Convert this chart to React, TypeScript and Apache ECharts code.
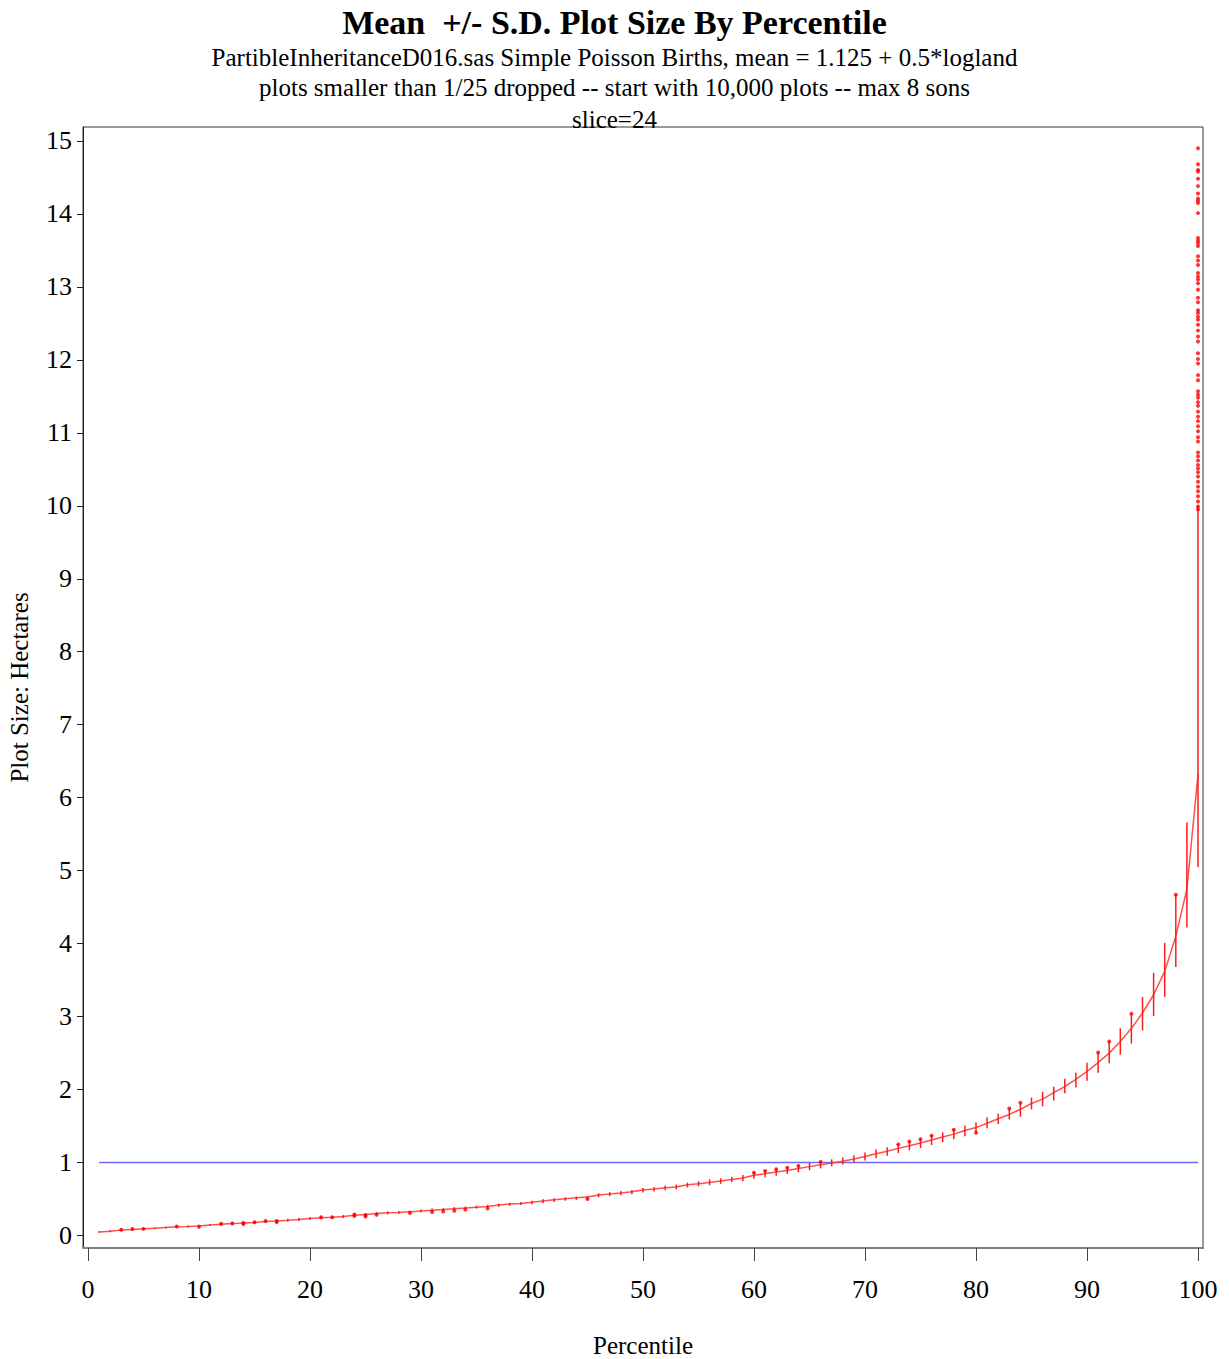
import React, { useEffect, useRef } from "react";
import * as echarts from "echarts";

const percentiles = [
  1, 2, 3, 4, 5, 6, 7, 8, 9, 10, 11, 12, 13, 14, 15, 16, 17, 18, 19, 20,
  21, 22, 23, 24, 25, 26, 27, 28, 29, 30, 31, 32, 33, 34, 35, 36, 37, 38, 39, 40,
  41, 42, 43, 44, 45, 46, 47, 48, 49, 50, 51, 52, 53, 54, 55, 56, 57, 58, 59, 60,
  61, 62, 63, 64, 65, 66, 67, 68, 69, 70, 71, 72, 73, 74, 75, 76, 77, 78, 79, 80,
  81, 82, 83, 84, 85, 86, 87, 88, 89, 90, 91, 92, 93, 94, 95, 96, 97, 98, 99, 100,
];

const meanSize = [
  0.05, 0.06, 0.075, 0.085, 0.093, 0.1, 0.11, 0.12, 0.125, 0.133,
  0.145, 0.157, 0.164, 0.172, 0.18, 0.193, 0.2, 0.21, 0.222, 0.235,
  0.245, 0.25, 0.26, 0.278, 0.288, 0.302, 0.312, 0.318, 0.325, 0.336,
  0.347, 0.356, 0.368, 0.378, 0.39, 0.4, 0.418, 0.432, 0.44, 0.456,
  0.474, 0.49, 0.505, 0.518, 0.53, 0.556, 0.57, 0.584, 0.6, 0.624,
  0.64, 0.657, 0.667, 0.698, 0.71, 0.728, 0.748, 0.77, 0.79, 0.826,
  0.847, 0.87, 0.892, 0.92, 0.945, 0.97, 0.995, 1.02, 1.05, 1.085,
  1.12, 1.155, 1.195, 1.23, 1.27, 1.31, 1.35, 1.39, 1.44, 1.48,
  1.54, 1.6, 1.66, 1.73, 1.81, 1.87, 1.96, 2.04, 2.14, 2.25,
  2.37, 2.5, 2.66, 2.84, 3.05, 3.3, 3.62, 4.1, 4.75, 6.32,
];

const barLow = [
  0.04, 0.045, 0.062, 0.07, 0.08, 0.088, 0.097, 0.105, 0.112, 0.115,
  0.13, 0.14, 0.145, 0.15, 0.16, 0.175, 0.178, 0.19, 0.2, 0.215,
  0.225, 0.23, 0.24, 0.255, 0.262, 0.278, 0.29, 0.298, 0.305, 0.315,
  0.324, 0.333, 0.342, 0.355, 0.37, 0.378, 0.395, 0.41, 0.418, 0.43,
  0.445, 0.46, 0.478, 0.49, 0.49, 0.525, 0.54, 0.553, 0.568, 0.59,
  0.605, 0.62, 0.635, 0.66, 0.675, 0.69, 0.71, 0.73, 0.745, 0.78,
  0.8, 0.82, 0.845, 0.87, 0.895, 0.92, 0.95, 0.975, 1.0, 1.03,
  1.06, 1.095, 1.13, 1.17, 1.2, 1.24, 1.28, 1.32, 1.36, 1.41,
  1.47, 1.53, 1.59, 1.63, 1.73, 1.77, 1.85, 1.95, 2.03, 2.12,
  2.23, 2.36, 2.48, 2.63, 2.81, 3.01, 3.27, 3.68, 4.22, 5.05,
];

const barHigh = [
  0.06, 0.072, 0.09, 0.098, 0.105, 0.112, 0.122, 0.133, 0.14, 0.148,
  0.16, 0.172, 0.185, 0.19, 0.2, 0.21, 0.22, 0.232, 0.243, 0.255,
  0.265, 0.27, 0.282, 0.3, 0.31, 0.322, 0.332, 0.338, 0.345, 0.356,
  0.37, 0.378, 0.39, 0.4, 0.41, 0.422, 0.438, 0.45, 0.462, 0.478,
  0.498, 0.512, 0.525, 0.535, 0.545, 0.58, 0.595, 0.61, 0.625, 0.652,
  0.665, 0.685, 0.7, 0.725, 0.745, 0.77, 0.785, 0.805, 0.83, 0.875,
  0.895, 0.92, 0.94, 0.965, 0.995, 1.02, 1.045, 1.07, 1.1, 1.14,
  1.18, 1.21, 1.255, 1.29, 1.33, 1.375, 1.415, 1.46, 1.51, 1.55,
  1.62, 1.67, 1.74, 1.82, 1.89, 1.97, 2.04, 2.15, 2.23, 2.37,
  2.51, 2.66, 2.84, 3.04, 3.27, 3.6, 4.01, 4.67, 5.66, 10.0,
];

// individual plots lying outside the S.D. bars: [percentile, hectares]
const outlierPoints = [
  [3, 0.08], [4, 0.09], [5, 0.092], [8, 0.125], [10, 0.12], [12, 0.162],
  [13, 0.166], [14, 0.172], [14, 0.16], [15, 0.182], [16, 0.2], [17, 0.2],
  [17, 0.185], [21, 0.25], [22, 0.252], [24, 0.29], [24, 0.27], [25, 0.28],
  [25, 0.262], [26, 0.285], [29, 0.31], [31, 0.324], [32, 0.33], [33, 0.34],
  [34, 0.356], [36, 0.37], [45, 0.5], [60, 0.86], [61, 0.885], [62, 0.91],
  [63, 0.93], [64, 0.955], [66, 1.01], [73, 1.25], [74, 1.29], [75, 1.32],
  [76, 1.37], [78, 1.45], [80, 1.41], [83, 1.74], [84, 1.82], [91, 2.51],
  [92, 2.66], [94, 3.04], [98, 4.67],
];

// individual plots in the 100th percentile above the bar
const topPercentilePoints = [
  14.9, 14.68, 14.6, 14.58, 14.48, 14.38, 14.28, 14.21, 14.18, 14.15, 14.01,
  13.67, 13.63, 13.6, 13.56, 13.42, 13.36, 13.3, 13.19, 13.14, 13.1, 13.05,
  12.96, 12.85, 12.79, 12.68, 12.64, 12.59, 12.55, 12.48, 12.4, 12.32, 12.25,
  12.09, 12.01, 11.95, 11.79, 11.72, 11.57, 11.52, 11.48, 11.42, 11.37, 11.29,
  11.22, 11.16, 11.09, 11.02, 10.94, 10.88, 10.73, 10.68, 10.62, 10.56, 10.51,
  10.46, 10.4, 10.33, 10.26, 10.2, 10.13, 10.06, 9.99, 9.95,
];

const referenceLine = [
  [1, 1],
  [100, 1],
];

const xTicks = [0, 10, 20, 30, 40, 50, 60, 70, 80, 90, 100];
const yTicks = [0, 1, 2, 3, 4, 5, 6, 7, 8, 9, 10, 11, 12, 13, 14, 15];

const SERIF = "'Liberation Serif', 'Times New Roman', 'DejaVu Serif', serif";

export default function App() {
  const ref = useRef<HTMLDivElement>(null);

  useEffect(() => {
    if (!ref.current) return;
    const chart = echarts.init(ref.current, undefined, { renderer: "svg" });

    const meanData = percentiles.map((p, i) => [p, meanSize[i]]);
    const barData = percentiles.map((p, i) => [p, barLow[i], barHigh[i]]);
    const pointData = outlierPoints.concat(topPercentilePoints.map((v) => [100, v]));

    const option: any = {
      animation: false,
      backgroundColor: "#ffffff",
      title: [
        {
          text: "Mean  +/- S.D. Plot Size By Percentile",
          left: "center",
          top: 0,
          textStyle: { fontFamily: SERIF, fontSize: 34, fontWeight: "bold", color: "#000" },
        },
        {
          text: "PartibleInheritanceD016.sas Simple Poisson Births, mean = 1.125 + 0.5*logland",
          left: "center",
          top: 40,
          textStyle: { fontFamily: SERIF, fontSize: 25, fontWeight: "normal", color: "#000" },
        },
        {
          text: "plots smaller than 1/25 dropped -- start with 10,000 plots -- max 8 sons",
          left: "center",
          top: 70,
          textStyle: { fontFamily: SERIF, fontSize: 25, fontWeight: "normal", color: "#000" },
        },
        {
          text: "slice=24",
          left: "center",
          top: 102,
          textStyle: { fontFamily: SERIF, fontSize: 25, fontWeight: "normal", color: "#000" },
        },
      ],
      grid: {
        left: 83,
        right: 26,
        top: 127,
        bottom: 111,
        containLabel: false,
        outerBoundsMode: "none",
        show: true,
        borderColor: "#333",
        borderWidth: 1,
        backgroundColor: "transparent",
      },
      xAxis: {
        type: "value",
        min: -0.45,
        max: 100.45,
        name: "Percentile",
        nameLocation: "middle",
        nameGap: 85,
        nameTextStyle: { fontFamily: SERIF, fontSize: 25, color: "#000" },
        axisLine: { show: true, onZero: false, lineStyle: { color: "#808080", width: 2 } },
        axisTick: { show: true, customValues: xTicks, length: 13, lineStyle: { color: "#444", width: 1 } },
        axisLabel: { customValues: xTicks, margin: 28, fontFamily: SERIF, fontSize: 26, color: "#000" },
        splitLine: { show: false },
      },
      yAxis: {
        type: "value",
        min: -0.17,
        max: 15.19,
        name: "Plot Size: Hectares",
        nameLocation: "middle",
        nameRotate: 90,
        nameGap: 51,
        nameTextStyle: { fontFamily: SERIF, fontSize: 25, color: "#000" },
        axisLine: { show: true, onZero: false, lineStyle: { color: "#222", width: 1 } },
        axisTick: { show: true, customValues: yTicks, length: 6, lineStyle: { color: "#222", width: 1 } },
        axisLabel: { customValues: yTicks, margin: 11, fontFamily: SERIF, fontSize: 26, color: "#000" },
        splitLine: { show: false },
      },
      series: [
        {
          name: "reference",
          type: "line",
          data: referenceLine,
          showSymbol: false,
          symbol: "none",
          lineStyle: { color: "#6a6aff", width: 1.5 },
          z: 1,
        },
        {
          name: "mean",
          type: "line",
          data: meanData,
          showSymbol: false,
          symbol: "none",
          lineStyle: { color: "#ff3030", width: 1.5, opacity: 0.85 },
          z: 3,
        },
        {
          name: "sd",
          type: "custom",
          data: barData,
          encode: { x: 0, y: [1, 2] },
          renderItem: (params: any, api: any) => {
            const a = api.coord([api.value(0), api.value(1)]);
            const b = api.coord([api.value(0), api.value(2)]);
            return {
              type: "line",
              shape: { x1: a[0], y1: a[1], x2: b[0], y2: b[1] },
              style: { stroke: "#ff1a1a", lineWidth: 1.5 },
            };
          },
          z: 4,
        },
        {
          name: "plots",
          type: "scatter",
          data: pointData,
          symbol: "circle",
          symbolSize: 4,
          itemStyle: { color: "#ff0000" },
          z: 5,
        },
      ],
    };

    chart.setOption(option);
    return () => chart.dispose();
  }, []);

  return (
    <div
      ref={ref}
      style={{ position: "fixed", left: 0, top: 0, width: 1229, height: 1359, background: "#fff" }}
    />
  );
}
